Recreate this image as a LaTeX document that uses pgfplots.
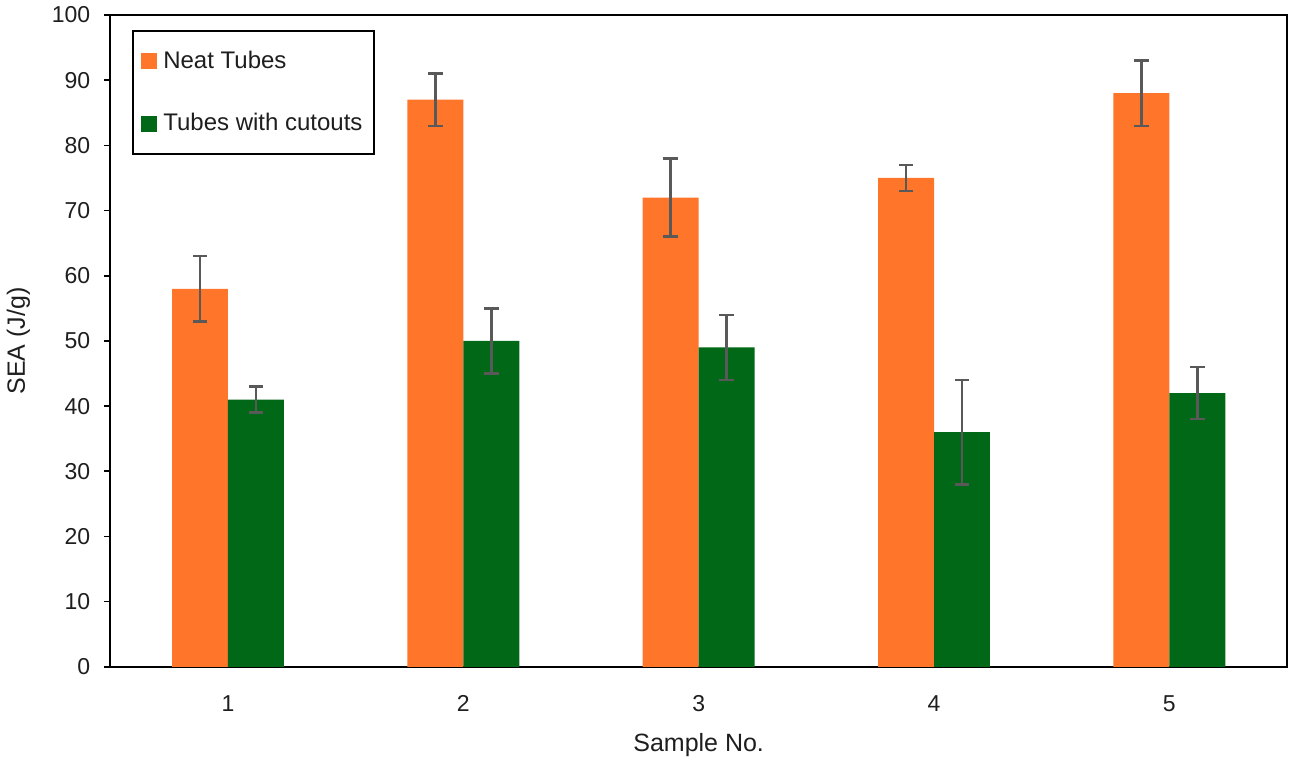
\documentclass[border=0pt]{standalone}
\usepackage{pgfplots}
\pgfplotsset{compat=1.18}
\usepackage{fontspec}
\setmainfont{Liberation Sans}
\definecolor{neat}{RGB}{255,117,42}
\definecolor{cut}{RGB}{0,104,22}
\definecolor{errc}{RGB}{89,89,89}
\definecolor{txt}{RGB}{30,30,30}
\begin{document}
\begin{tikzpicture}
\begin{axis}[
  scale only axis,
  width=588.5pt, height=326pt,
  xmin=0.5, xmax=5.5, ymin=0, ymax=100,
  ybar=0pt, bar width=28pt,
  xtick={1,2,3,4,5},
  ytick={0,10,...,100},
  ytick pos=left,
  major x tick style={draw=none},
  tick align=outside,
  major tick length=3pt,
  y tick style={black, line width=0.8pt},
  axis line style={black, line width=1pt},
  tick label style={font=\fontsize{11.5}{13}\selectfont, text=txt},
  yticklabel style={xshift=-3.5pt},
  xticklabel style={yshift=-8pt},
  /pgf/number format/assume math mode=true,
  xlabel={Sample No.}, ylabel={SEA (J/g)},
  label style={font=\fontsize{12.5}{14}\selectfont, text=txt},
  xlabel style={at={(axis description cs:0.5,-0.1196)}, anchor=center},
  ylabel style={at={(axis description cs:-0.0782,0.5)}, anchor=center, rotate=0},
  legend cell align=left,
  legend style={at={(rel axis cs:0.0187,0.977)}, anchor=north west,
    draw=black, line width=1pt, font=\fontsize{12}{14}\selectfont, text=txt,
    row sep=17pt, inner xsep=4pt, inner ysep=8pt},
  legend image code/.code={\fill[#1, draw=none] (0pt,-4pt) rectangle (8pt,4pt); \path (9pt,0pt);},
  error bars/error bar style={errc, line width=1.2pt},
  error bars/error mark options={rotate=90, mark size=3.6pt, line width=1.2pt, errc},
]
\addplot[fill=neat, draw=none, error bars/.cd, y dir=both, y explicit]
  coordinates {(1,58) +- (0,5) (2,87) +- (0,4) (3,72) +- (0,6) (4,75) +- (0,2) (5,88) +- (0,5)};
\addlegendentry{Neat Tubes}
\addplot[fill=cut, draw=none, error bars/.cd, y dir=both, y explicit]
  coordinates {(1,41) +- (0,2) (2,50) +- (0,5) (3,49) +- (0,5) (4,36) +- (0,8) (5,42) +- (0,4)};
\addlegendentry{Tubes with cutouts}
\end{axis}
\path ([xshift=-55pt,yshift=-50pt]current axis.south west) rectangle ([xshift=3.5pt,yshift=7.5pt]current axis.north east);
\end{tikzpicture}
\end{document}
